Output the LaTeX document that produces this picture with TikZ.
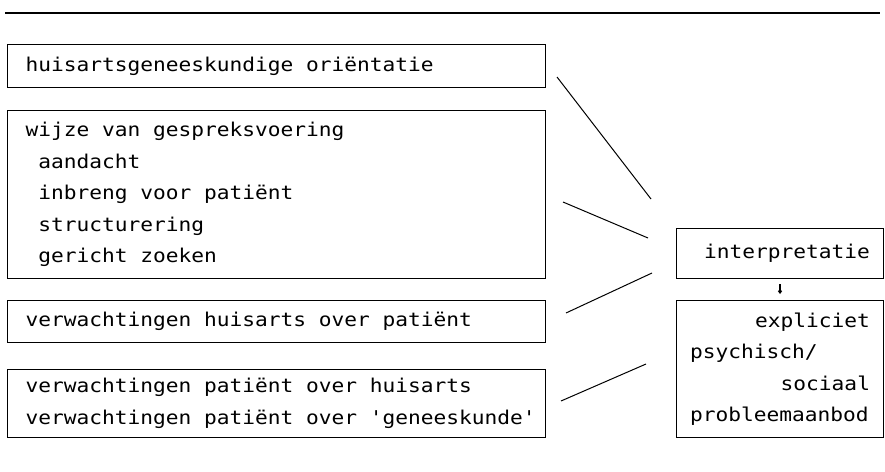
\documentclass[tikz,border=0pt]{standalone}
\usepackage{fontspec}
\newfontfamily\typew[FakeStretch=1.115]{DejaVu Sans Mono}
\newcommand\wsp{\hspace{12.75pt}}
\newcommand\typefont{\typew\fontsize{19}{31.5}\selectfont\hbadness=10000\hfuzz=50pt}
\usetikzlibrary{arrows.meta}
\begin{document}
\begin{tikzpicture}[x=1pt,y=-1pt,
  box/.style={draw, line width=1pt, anchor=north west, inner ysep=0pt,
    font=\typefont},
  lbox/.style={box, inner xsep=18pt, text width=502pt, minimum width=538pt, align=left},
  rbox/.style={box, inner xsep=13.5pt, text width=180pt, minimum width=207pt},
  link/.style={line width=1pt}]
\useasboundingbox (0,0) rectangle (885,471);
\draw[line width=2pt] (5,13) -- (880,13);
\node[lbox, minimum height=43pt] (orient) at (7,44) {huisartsgeneeskundige\wsp oriëntatie};
\node[lbox, minimum height=168pt] (gesprek) at (7,110)
  {wijze\wsp van\wsp gespreksvoering\\
   \hspace*{12.75pt}aandacht\\
   \hspace*{12.75pt}inbreng\wsp voor\wsp patiënt\\
   \hspace*{12.75pt}structurering\\
   \hspace*{12.75pt}gericht\wsp zoeken};
\node[lbox, minimum height=42pt] (verwha) at (7,300) {verwachtingen\wsp huisarts\wsp over\wsp patiënt};
\node[lbox, minimum height=68pt] (verwpa) at (7,369)
  {\mbox{verwachtingen\wsp patiënt\wsp over\wsp huisarts}\\
   \mbox{verwachtingen\wsp patiënt\wsp over\wsp 'geneeskunde'}};
\node[rbox, minimum height=50pt, align=right] (interp) at (676,228) {interpretatie};
\node[rbox, minimum height=137pt, align=left] (expl) at (676,300)
  {\hspace*{\fill}expliciet\\
   psychisch/\\
   \hspace*{\fill}sociaal\\
   probleemaanbod};
\coordinate (a1) at (557,77);  \coordinate (b1) at (651,199);
\coordinate (a2) at (563,202); \coordinate (b2) at (648,238);
\coordinate (a3) at (566,313); \coordinate (b3) at (652,273);
\coordinate (a4) at (561,401); \coordinate (b4) at (646,364);
\draw[link] (a1) -- (b1);
\draw[link] (a2) -- (b2);
\draw[link] (a3) -- (b3);
\draw[link] (a4) -- (b4);
\draw[line width=1.6pt, -{Straight Barb[length=2pt,width=3pt]}, shorten <=5pt, shorten >=6pt] (interp.south) -- (expl.north);
\end{tikzpicture}
\end{document}
